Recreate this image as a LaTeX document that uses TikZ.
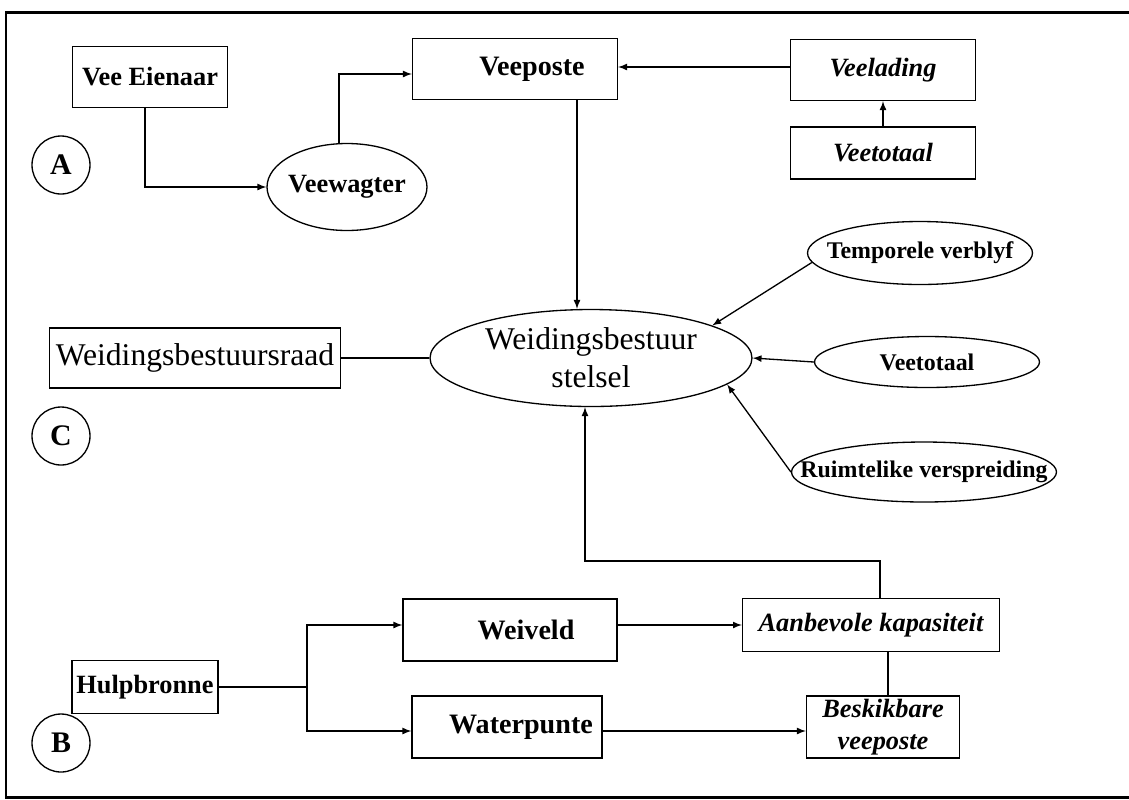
\documentclass[tikz,border=0pt]{standalone}
\usepackage{fontspec}
\setmainfont{Liberation Serif}
\usetikzlibrary{shapes.geometric, arrows, positioning}
\newcommand{\nowidth}[1]{\makebox[0pt]{#1}}

\begin{document}
\begin{tikzpicture}[x=0.02cm, y=-0.02cm, line width=0.75pt, >=latex,
    box/.style={rectangle, draw, inner sep=0pt, align=center, font=\fontsize{15}{18}\selectfont\bfseries},
    bigbox/.style={box, font=\fontsize{16}{19}\selectfont\bfseries},
    oval/.style={ellipse, draw, inner sep=0pt, font=\fontsize{13.6}{16}\selectfont\bfseries},
    tag/.style={circle, draw, inner sep=0pt, minimum size=1.16cm, font=\fontsize{17}{20}\selectfont\bfseries}]
    \useasboundingbox (0,0) rectangle (1129,799);
    \draw[line width=1.7pt] (1140,12) -- (6,12) -- (6,797) -- (1140,797);

    % A
    \node[tag] (tagA) at (61,165) {A};
    \node[box, minimum width=3.1cm, minimum height=1.22cm] (eienaar) at (150,77) {Vee Eienaar};
    \node[oval, minimum width=3.2cm, minimum height=1.74cm, font=\fontsize{15}{18}\selectfont\bfseries] (veewagter) at (347,187) {\nowidth{Veewagter}};
    \node[bigbox, minimum width=4.1cm, minimum height=1.22cm] (veeposte) at (515,69) {\hspace*{0.68cm}Veeposte};
    \node[box, minimum width=3.7cm, minimum height=1.22cm, font=\fontsize{15}{18}\selectfont\bfseries\itshape] (veelading) at (883,70) {Veelading};
    \node[box, minimum width=3.7cm, minimum height=1.04cm, font=\fontsize{15}{18}\selectfont\bfseries\itshape] (veetotaalA) at (883,153) {Veetotaal};

    % C
    \node[tag] (tagC) at (61,436) {C};
    \node[ellipse, draw, inner sep=0pt, minimum width=6.44cm, minimum height=1.94cm, align=center, font=\fontsize{18}{21.5}\selectfont] (stelsel) at (591,358) {Weidingsbestuur\\stelsel};
    \node[box, minimum width=5.82cm, minimum height=1.2cm, font=\fontsize{18}{21.5}\selectfont] (raad) at (195,358) {Weidingsbestuursraad};
    \node[oval, minimum width=4.5cm, minimum height=1.26cm] (temporeel) at (920,253) {\nowidth{Temporele verblyf}};
    \node[oval, minimum width=4.5cm, minimum height=1.02cm] (veetotaalB) at (927,362) {Veetotaal};
    \node[oval, minimum width=5.3cm, minimum height=1.2cm] (ruimtelik) at (924,472) {\nowidth{Ruimtelike verspreiding}};

    % B
    \node[box, minimum width=2.92cm, minimum height=1.06cm] (hulp) at (145,687) {Hulpbronne};
    \node[tag] (tagB) at (61,743) {B};
    \node[bigbox, minimum width=4.28cm, minimum height=1.24cm] (weiveld) at (510,630) {\hspace*{0.64cm}Weiveld};
    \node[bigbox, minimum width=3.8cm, minimum height=1.24cm] (waterpunte) at (507,727) {\hspace*{0.56cm}Waterpunte};
    \node[box, minimum width=5.14cm, minimum height=1.06cm, font=\fontsize{15}{18}\selectfont\bfseries\itshape] (aanbevole) at (871,625) {Aanbevole kapasiteit};
    \node[box, minimum width=3.06cm, minimum height=1.24cm, font=\fontsize{15}{18}\selectfont\bfseries\itshape] (beskikbaar) at (883,727) {Beskikbare\\veeposte};
    \coordinate (split) at (307,687);

    \draw[->] ([xshift=-0.1cm]eienaar.south) |- (veewagter.west);
    \draw[->] ([xshift=-0.16cm]veewagter.north) |- ([yshift=-0.1cm]veeposte.west);
    \draw[->] ([yshift=0.06cm]veelading.west) -- ([yshift=0.06cm]veelading.west -| veeposte.east);
    \draw[->] (veetotaalA.north) -- (veelading.south);
    \draw[->] ([xshift=-0.28cm]veeposte.south -| stelsel.north) -- ([xshift=-0.28cm]stelsel.north);
    \draw (raad.east) -- (stelsel.west);
    \draw[->] (temporeel.185) -- (stelsel.15);
    \draw[->] (veetotaalB.west) -- (stelsel.east);
    \draw[->] (ruimtelik.west) -- (stelsel.-11);
    \draw[->] ([xshift=0.18cm]aanbevole.north) -- ++(0,-37) -| ([xshift=-0.12cm]stelsel.south);
    \draw (hulp.east) -- (split);
    \draw[->] (split) |- ([yshift=0.1cm]weiveld.west);
    \draw[->] (split) |- ([yshift=-0.08cm]waterpunte.west);
    \draw[->] (weiveld.east |- aanbevole.west) -- (aanbevole.west);
    \draw ([xshift=0.1cm]beskikbaar.north) -- ([xshift=0.1cm]beskikbaar.north |- aanbevole.south);
    \draw[->] ([yshift=-0.08cm]waterpunte.east) -- ([yshift=-0.08cm]beskikbaar.west);
\end{tikzpicture}
\end{document}
